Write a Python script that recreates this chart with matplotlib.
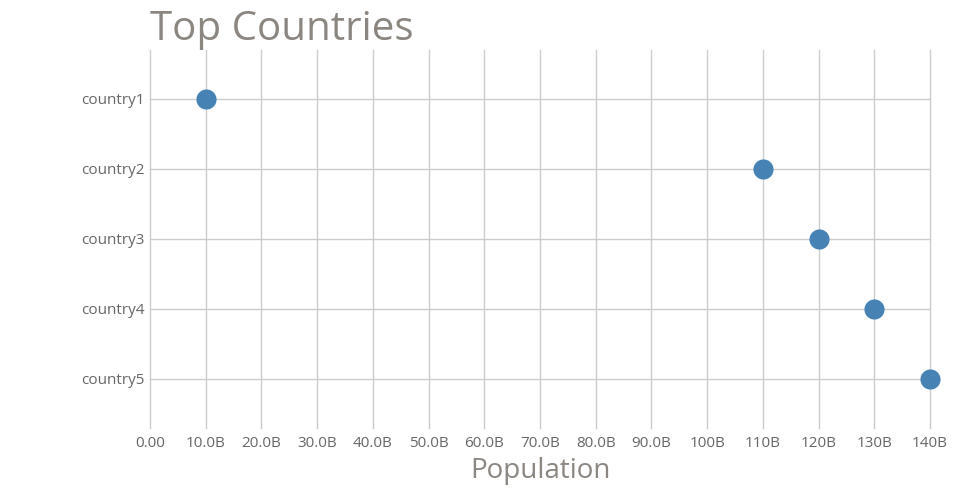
import matplotlib
matplotlib.use("Agg")
import matplotlib.pyplot as plt
from matplotlib.ticker import FuncFormatter, MultipleLocator

countries = ["country1", "country2", "country3", "country4", "country5"]
population = [10e9, 110e9, 120e9, 130e9, 140e9]

plt.rcParams['font.family'] = ['Open Sans', 'DejaVu Sans']

fig = plt.figure(figsize=(9.6, 5.0), dpi=100)
ax = fig.add_axes([150/960, 1 - 428/500, 780/960, 378/500])

ypos = list(range(len(countries)))
ax.scatter(population, ypos, s=210, color="#4682b4", zorder=3, linewidths=0, clip_on=False)

ax.set_xlim(0, 140e9)
ax.set_ylim(4.7, -0.7)
ax.xaxis.set_major_locator(MultipleLocator(10e9))

def fmt(v, pos):
    if v == 0:
        return "0.00"
    b = v / 1e9
    if b < 100:
        return f"{b:.1f}B"
    return f"{b:.0f}B"

ax.xaxis.set_major_formatter(FuncFormatter(fmt))
ax.set_yticks(ypos)
ax.set_yticklabels(countries)

ax.grid(True, color="#cccccc", linewidth=1, zorder=0)
for gl in ax.get_xgridlines() + ax.get_ygridlines():
    gl.set_clip_on(False)
for s in ax.spines.values():
    s.set_visible(False)
ax.tick_params(length=0, colors="#666666", labelsize=11)
ax.tick_params(axis='x', pad=6)
ax.tick_params(axis='y', pad=4)

ax.set_xlabel("Population", fontsize=20, color="#8c8680", labelpad=4)
fig.text(150/960, 1 - 40/500, "Top Countries", fontsize=29, color="#8c8680",
         ha="left", va="baseline")

fig.savefig("out.png", dpi=100, facecolor="white")
